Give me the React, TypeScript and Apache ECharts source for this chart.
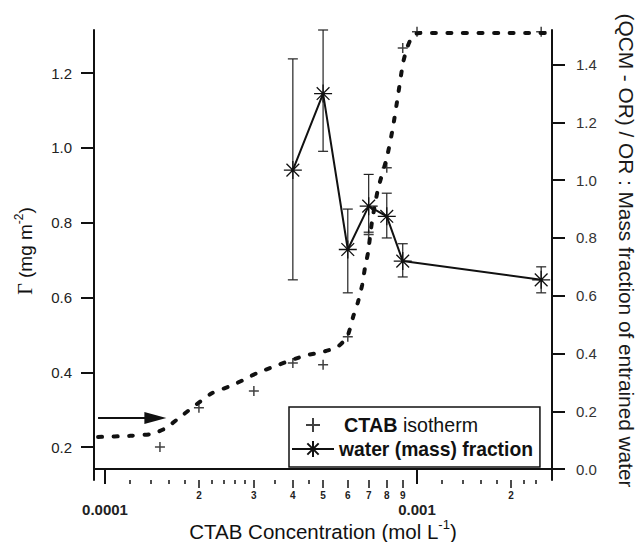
import React, { useEffect, useRef } from "react";
import * as echarts from "echarts";

// CTAB isotherm (left axis, mg m^-2)
const isoX = [0.00015, 0.0002, 0.0003, 0.0004, 0.0005, 0.0006, 0.0007, 0.0008, 0.0009, 0.001, 0.0025];
const isoY = [0.2, 0.305, 0.35, 0.425, 0.42, 0.495, 0.768, 0.947, 1.267, 1.31, 1.31];

// Fitted isotherm (dashed curve, left axis)
const fitX = [0.000095, 0.00012, 0.000141, 0.000156, 0.000174, 0.000197, 0.00022, 0.000252, 0.000277, 0.000307, 0.000345, 0.000397, 0.000444, 0.000496, 0.000554, 0.000597, 0.000624, 0.000647, 0.000667, 0.000681, 0.000697, 0.000717, 0.00075, 0.000801, 0.000837, 0.000869, 0.000902, 0.000929, 0.000971, 0.00102, 0.00257];
const fitY = [0.227, 0.23, 0.235, 0.25, 0.28, 0.315, 0.344, 0.363, 0.379, 0.398, 0.414, 0.433, 0.446, 0.454, 0.467, 0.494, 0.548, 0.588, 0.633, 0.679, 0.721, 0.802, 0.89, 0.975, 1.054, 1.14, 1.227, 1.267, 1.302, 1.307, 1.307];

// Water (mass) fraction (right axis) with error bars
const waterX = [0.0004, 0.0005, 0.0006, 0.0007, 0.0008, 0.0009, 0.0025];
const waterY = [1.035, 1.3, 0.76, 0.91, 0.875, 0.72, 0.655];
const waterLow = [0.655, 1.1, 0.61, 0.82, 0.8, 0.665, 0.61];
const waterHigh = [1.42, 1.52, 0.9, 1.02, 0.955, 0.78, 0.7];

// Arrow (left axis)
const arrowX = [0.000095, 0.000145];
const arrowY = 0.2775;

// Ticks
const leftTicks = [0.2, 0.4, 0.6, 0.8, 1.0, 1.2];
const rightTicks = [0, 0.2, 0.4, 0.6, 0.8, 1.0, 1.2, 1.4];
const xMajorTicks = [0.0001, 0.001];
const xMajorLabels = ["0.0001", "0.001"];
const xLabeledTicks = [0.0002, 0.0003, 0.0004, 0.0005, 0.0006, 0.0007, 0.0008, 0.0009, 0.002];
const xLabeledText = ["2", "3", "4", "5", "6", "7", "8", "9", "2"];
const xMinorTicks = [0.00012, 0.00014, 0.00016, 0.00018, 0.00022, 0.00024, 0.00026, 0.00028, 0.00035, 0.00045, 0.0012, 0.0014, 0.0016, 0.0018, 0.0022, 0.0024];

const FONT = "Liberation Sans, Arial, sans-serif";
const SERIF = "Liberation Serif, DejaVu Serif, serif";
const INK = "#111";

const plusPath = "path://M-1,0L1,0M0,-1L0,1";
const plusLegendPath = "path://M-14,-10M14,10M-7,0L7,0M0,-7L0,7";
const starPath = "path://M0,-10L0,10M-10,0L10,0M-7.07,-7.07L7.07,7.07M-7.07,7.07L7.07,-7.07";

const X_MIN = 0.0000922;
const X_MAX = 0.002708;

function nearestLabel(v: number, ticks: number[], labels: string[]) {
  let best = 0;
  let bd = Infinity;
  for (let i = 0; i < ticks.length; i++) {
    const d = Math.abs(Math.log10(v) - Math.log10(ticks[i]));
    if (d < bd) { bd = d; best = i; }
  }
  return labels[best];
}

function baseX(extra: any) {
  return {
    type: "log",
    logBase: 10,
    min: X_MIN,
    max: X_MAX,
    position: "bottom",
    gridIndex: 0,
    splitLine: { show: false },
    minorTick: { show: false },
    ...extra,
  };
}

export default function App() {
  const ref = useRef<HTMLDivElement>(null);
  useEffect(() => {
    if (!ref.current) return;
    const chart = echarts.init(ref.current, undefined, { renderer: "svg" });
    const option: any = {
      animation: false,
      backgroundColor: "#fff",
      grid: { left: 94, right: 86, top: 30, bottom: 62, containLabel: false, outerBoundsMode: "none" },
      graphic: [
        {
          type: "text",
          x: 25,
          y: 251,
          rotation: Math.PI / 2,
          silent: true,
          style: {
            text: "{g|Γ} (mg m{s|-2})",
            fill: INK,
            fontSize: 19,
            fontFamily: FONT,
            align: "center",
            verticalAlign: "middle",
            lineHeight: 24,
            rich: {
              g: { fontSize: 20, fontFamily: SERIF, fill: INK, lineHeight: 24 },
              s: { fontSize: 12, fontFamily: FONT, fill: INK, verticalAlign: "top", lineHeight: 12 },
            },
          },
        },
        {
          type: "text",
          x: 626,
          y: 250.5,
          rotation: -Math.PI / 2,
          silent: true,
          style: {
            text: "(QCM - OR) / OR : Mass fraction of entrained water",
            fill: "#1a1a1a",
            fontSize: 20.8,
            fontFamily: FONT,
            align: "center",
            verticalAlign: "middle",
          },
        },
      ],
      xAxis: [
        baseX({
          axisLine: { show: true, lineStyle: { color: INK, width: 2 } },
          axisTick: { show: true, inside: false, length: 15, lineStyle: { color: INK, width: 2 }, customValues: xMajorTicks },
          axisLabel: {
            show: true, margin: 22, fontSize: 15, fontWeight: "bold", color: "#222", fontFamily: FONT,
            customValues: xMajorTicks,
            formatter: (v: number) => nearestLabel(v, xMajorTicks, xMajorLabels),
          },
          name: "CTAB Concentration (mol L{s|-1})",
          nameLocation: "middle",
          nameGap: 38,
          nameMoveOverlap: false,
          nameTextStyle: {
            fontSize: 20.5, color: INK, fontFamily: FONT, lineHeight: 26,
            rich: { s: { fontSize: 13, verticalAlign: "top", lineHeight: 13, color: INK, fontFamily: FONT } },
          },
        }),
        baseX({
          axisLine: { show: false },
          axisTick: { show: true, inside: false, length: 8, lineStyle: { color: INK, width: 1.5 }, customValues: xLabeledTicks },
          axisLabel: {
            show: true, margin: 10, fontSize: 10, fontWeight: "bold", color: "#222", fontFamily: FONT,
            customValues: xLabeledTicks,
            formatter: (v: number) => nearestLabel(v, xLabeledTicks, xLabeledText),
          },
        }),
        baseX({
          axisLine: { show: false },
          axisTick: { show: true, inside: false, length: 4, lineStyle: { color: INK, width: 1.5 }, customValues: xMinorTicks },
          axisLabel: { show: false },
        }),
      ],
      yAxis: [
        {
          type: "value",
          position: "left",
          min: 0.112,
          max: 1.315,
          splitLine: { show: false },
          axisLine: { show: true, lineStyle: { color: INK, width: 2 } },
          axisTick: { show: true, inside: false, length: 13, lineStyle: { color: INK, width: 2 }, customValues: leftTicks },
          axisLabel: {
            margin: 22, fontSize: 15, color: "#222", fontFamily: FONT, customValues: leftTicks,
            formatter: (v: number) => v.toFixed(1),
          },
        },
        {
          type: "value",
          position: "right",
          min: -0.038,
          max: 1.52,
          splitLine: { show: false },
          axisLine: { show: true, lineStyle: { color: INK, width: 2 } },
          axisTick: { show: true, inside: false, length: 13, lineStyle: { color: INK, width: 2 }, customValues: rightTicks },
          axisLabel: {
            margin: 24, fontSize: 15, color: "#333", fontFamily: FONT, customValues: rightTicks,
            formatter: (v: number) => v.toFixed(1),
          },
        },
      ],
      legend: {
        show: true,
        left: 289,
        top: 407,
        orient: "vertical",
        padding: [7, 7, 7, 2],
        itemGap: 2,
        itemWidth: 42,
        itemHeight: 20,
        borderColor: INK,
        borderWidth: 1.5,
        backgroundColor: "#fff",
        selectedMode: false,
        data: [
          { name: "CTAB isotherm", icon: plusLegendPath },
          { name: "water (mass) fraction" },
        ],
        formatter: (name: string) =>
          name === "CTAB isotherm" ? "{c|CTAB} {i|isotherm}" : "{b|water (mass) fraction}",
        textStyle: {
          fontSize: 19.5, color: INK, fontFamily: FONT, lineHeight: 22,
          rich: {
            c: { fontSize: 19.8, fontWeight: "bold", color: INK, fontFamily: FONT, lineHeight: 22, padding: [0, 0, 0, 5] },
            i: { fontSize: 19.6, color: INK, fontFamily: FONT, lineHeight: 22 },
            b: { fontSize: 19.3, fontWeight: "bold", color: INK, fontFamily: FONT, lineHeight: 22 },
          },
        },
      },
      series: [
        {
          name: "fit",
          type: "line",
          xAxisIndex: 0,
          yAxisIndex: 0,
          data: fitX.map((x, i) => [x, fitY[i]]),
          showSymbol: false,
          symbol: "none",
          smooth: 0.2,
          silent: true,
          lineStyle: { color: INK, width: 4, type: [4, 11.5], cap: "round" },
          markLine: {
            silent: true,
            symbol: ["none", "triangle"],
            symbolSize: [12, 22],
            label: { show: false },
            lineStyle: { color: INK, width: 2, type: "solid" },
            data: [[{ coord: [arrowX[0], arrowY] }, { coord: [arrowX[1], arrowY] }]],
          },
          z: 2,
        },
        {
          name: "CTAB isotherm",
          type: "scatter",
          xAxisIndex: 0,
          yAxisIndex: 0,
          data: isoX.map((x, i) => [x, isoY[i]]),
          symbol: plusPath,
          symbolSize: 10,
          itemStyle: { color: INK, borderColor: INK, borderWidth: 1.5 },
          z: 3,
        },
        {
          name: "error",
          type: "custom",
          xAxisIndex: 0,
          yAxisIndex: 1,
          data: waterX.map((x, i) => [x, waterLow[i], waterHigh[i]]),
          encode: { x: 0, y: [1, 2] },
          silent: true,
          renderItem: (params: any, api: any) => {
            const x = api.value(0);
            const p1 = api.coord([x, api.value(1)]);
            const p2 = api.coord([x, api.value(2)]);
            const w = 5;
            const style = { stroke: "#222", lineWidth: 1.2, fill: "none" };
            return {
              type: "group",
              children: [
                { type: "line", shape: { x1: p1[0], y1: p1[1], x2: p2[0], y2: p2[1] }, style },
                { type: "line", shape: { x1: p1[0] - w, y1: p1[1], x2: p1[0] + w, y2: p1[1] }, style },
                { type: "line", shape: { x1: p2[0] - w, y1: p2[1], x2: p2[0] + w, y2: p2[1] }, style },
              ],
            };
          },
          z: 3,
        },
        {
          name: "water (mass) fraction",
          type: "line",
          xAxisIndex: 0,
          yAxisIndex: 1,
          data: waterX.map((x, i) => [x, waterY[i]]),
          symbol: starPath,
          symbolSize: 18,
          showSymbol: true,
          lineStyle: { color: INK, width: 2 },
          itemStyle: { color: INK, borderColor: INK, borderWidth: 1.3 },
          z: 4,
        },
      ],
    };
    chart.setOption(option);
    return () => chart.dispose();
  }, []);
  return (
    <div
      ref={ref}
      style={{ position: "fixed", left: 0, top: 0, width: 638, height: 542, background: "#fff" }}
    />
  );
}
